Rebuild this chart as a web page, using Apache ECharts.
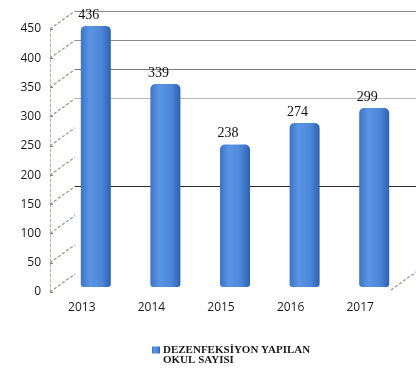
<!DOCTYPE html>
<html>
<head>
<meta charset="utf-8">
<script src="https://cdn.jsdelivr.net/npm/echarts@6/dist/echarts.min.js"></script>
<style>
  html, body { margin: 0; padding: 0; background: #fff; }
  #chart { width: 416px; height: 373px; }
</style>
</head>
<body>
<div id="chart"></div>
<script>
// School disinfection counts per year
const years = ['2013', '2014', '2015', '2016', '2017'];
const schoolCounts = [436, 339, 238, 274, 299];
const axisTicks = [0, 50, 100, 150, 200, 250, 300, 350, 400, 450];
// back-wall grid lines that are drawn, with their shade
const wallLines = [450, 400, 350, 300, 150];
const wallLineColors = ['#8c8c8c', '#8c8c8c', '#7a7a7a', '#bcb4c0', '#2a2a2a'];
const seriesName = 'DEZENFEKSİYON YAPILAN\nOKUL SAYISI';

const DEPTH_X = 25, DEPTH_Y = 18;

const chart = echarts.init(document.getElementById('chart'));

const barGradient = new echarts.graphic.LinearGradient(0, 0, 1, 0, [
  { offset: 0, color: '#3e72c6' },
  { offset: 0.3, color: '#5a96e4' },
  { offset: 0.7, color: '#4c86d8' },
  { offset: 1, color: '#2f60b0' }
]);

const dashStyle = { stroke: '#8d9a84', lineWidth: 1.2, lineDash: [3, 2] };

chart.setOption({
  animation: false,
  grid: [
    { left: 50, right: 0, top: 29, height: 263 },   // front value axis
    { left: 61, width: 348, top: 17.5, height: 269.5 }, // bars
    { left: 75, right: 0, top: 11, height: 263 }    // back wall
  ],
  xAxis: [
    { gridIndex: 0, type: 'category', data: years, show: false },
    {
      gridIndex: 1, type: 'category', data: years,
      axisLine: { show: false }, axisTick: { show: false },
      axisLabel: {
        margin: 15, color: '#1a1a1a', fontSize: 12, fontFamily: 'Open Sans',
        padding: [0, 28, 0, 0]
      }
    },
    { gridIndex: 2, type: 'value', min: 0, max: 1, show: false }
  ],
  yAxis: [
    {
      gridIndex: 0, type: 'value', min: 0, max: 450, interval: 50,
      axisLine: { show: true, lineStyle: { color: '#a6bf9a', type: [3, 2], width: 1 } },
      axisTick: { show: true, length: 3, inside: true, lineStyle: { color: '#6f8a66' } },
      axisLabel: { margin: 9, color: '#1a1a1a', fontSize: 12, fontFamily: 'Open Sans' },
      splitLine: { show: false }
    },
    { gridIndex: 1, type: 'value', min: 0, max: 450, show: false },
    { gridIndex: 2, type: 'value', min: 0, max: 450, show: false }
  ],
  legend: {
    left: 152, top: 334, padding: 0,
    itemWidth: 8, itemHeight: 7, itemGap: 2,
    icon: 'rect',
    data: [seriesName],
    // leading blank line keeps the marker beside the first text line
    formatter: name => '\n' + name,
    textStyle: {
      fontFamily: 'Liberation Serif', fontWeight: 'bold', fontSize: 11, lineHeight: 10.5,
      color: '#1a1a1a', padding: [0, 0, 0, -2]
    }
  },
  series: [
    {
      // back wall grid lines
      type: 'line', xAxisIndex: 2, yAxisIndex: 2, data: [], silent: true, z: 1,
      markLine: {
        symbol: 'none', silent: true, label: { show: false }, z: 1,
        data: wallLines.map((v, i) => ({
          yAxis: v, lineStyle: { color: wallLineColors[i], type: 'solid', width: 1.2 }
        }))
      }
    },
    {
      // receding dashed lines from the value axis ticks to the back wall
      type: 'custom', xAxisIndex: 0, yAxisIndex: 0, silent: true, z: 1,
      data: axisTicks.map(v => [0, v]),
      renderItem: function (params, api) {
        const v = api.value(1);
        const p = api.coord([0, v]);
        const cs = params.coordSys;
        const children = [{
          type: 'line',
          shape: { x1: cs.x, y1: p[1], x2: cs.x + DEPTH_X, y2: p[1] - DEPTH_Y },
          style: dashStyle
        }];
        if (v === 0) {
          // front-right floor edge
          const xr = cs.x + cs.width - DEPTH_X;
          children.push({
            type: 'line',
            shape: { x1: xr, y1: p[1] - 2, x2: xr + DEPTH_X, y2: p[1] - 2 - DEPTH_Y },
            style: dashStyle
          });
        }
        return { type: 'group', children: children };
      }
    },
    {
      name: seriesName,
      type: 'bar', xAxisIndex: 1, yAxisIndex: 1, z: 5,
      data: schoolCounts,
      barWidth: 30,
      itemStyle: { color: barGradient, borderRadius: [5, 5, 3, 3] },
      label: {
        show: true, position: 'top', distance: 4, offset: [-7, 0],
        color: '#111', fontSize: 14, fontFamily: 'Liberation Serif'
      }
    }
  ]
});
</script>
</body>
</html>
